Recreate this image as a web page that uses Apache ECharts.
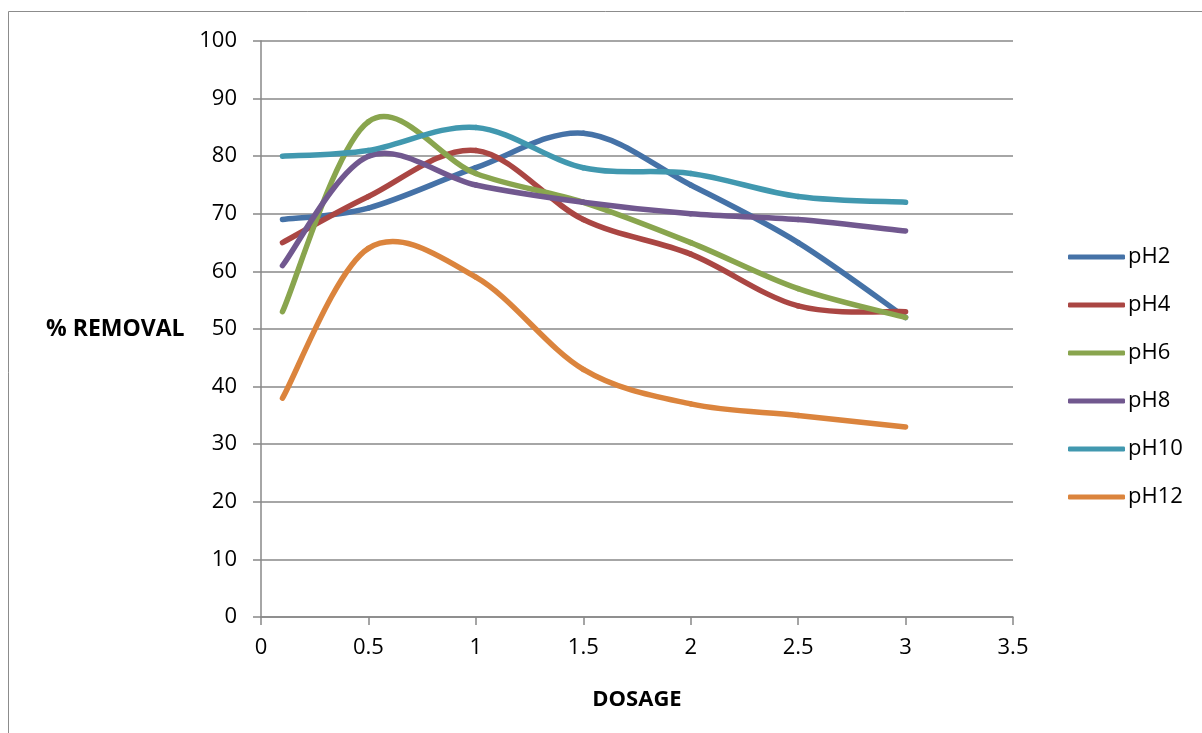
<!DOCTYPE html>
<html>
<head>
<meta charset="utf-8">
<script src="https://cdn.jsdelivr.net/npm/echarts@6/dist/echarts.min.js"></script>
<style>html,body{margin:0;padding:0;background:#fff;}#c{width:1202px;height:733px;}</style>
</head>
<body>
<div id="c"></div>
<script>
var dosage = [0.1, 0.5, 1, 1.5, 2, 2.5, 3];
var seriesNames = ['pH2', 'pH4', 'pH6', 'pH8', 'pH10', 'pH12'];
var pH2  = [69, 71, 78, 84, 75, 65, 52];
var pH4  = [65, 73, 81, 69, 63, 54, 53];
var pH6  = [53, 86, 77, 72, 65, 57, 52];
var pH8  = [61, 80, 75, 72, 70, 69, 67];
var pH10 = [80, 81, 85, 78, 77, 73, 72];
var pH12 = [38, 64, 59, 43, 37, 35, 33];
var colors = ['#4572A7', '#AA4643', '#89A54E', '#71588F', '#4198AF', '#DB843D'];

var values = [pH2, pH4, pH6, pH8, pH10, pH12];
function pairs(v) { return dosage.map(function (d, i) { return [d, v[i]]; }); }

// Excel-style smoothed line: cubic Bezier segments with Catmull-Rom control points,
// computed from points mapped through the chart's own axes (api.coord).
function smoothRenderer(idx) {
  return function (params, api) {
    if (params.dataIndex !== 0) return null;
    var pts = pairs(values[idx]).map(function (p) { return api.coord(p); });
    var n = pts.length, children = [];
    for (var i = 0; i < n - 1; i++) {
      var p0 = pts[Math.max(i - 1, 0)], p1 = pts[i], p2 = pts[i + 1], p3 = pts[Math.min(i + 2, n - 1)];
      children.push({
        type: 'bezierCurve',
        shape: {
          x1: p1[0], y1: p1[1], x2: p2[0], y2: p2[1],
          cpx1: p1[0] + (p2[0] - p0[0]) / 6, cpy1: p1[1] + (p2[1] - p0[1]) / 6,
          cpx2: p2[0] - (p3[0] - p1[0]) / 6, cpy2: p2[1] - (p3[1] - p1[1]) / 6
        },
        style: { stroke: colors[idx], fill: null, lineWidth: 5.5, lineCap: 'round', lineJoin: 'round' }
      });
    }
    return { type: 'group', children: children };
  };
}

var font = '"Open Sans", "Liberation Sans", sans-serif';
var chart = echarts.init(document.getElementById('c'), null, { renderer: 'canvas' });
chart.setOption({
  animation: false,
  backgroundColor: '#fff',
  color: colors,
  grid: { left: 261, right: 189, top: 41, bottom: 116 },
  graphic: [
    { type: 'rect', shape: { x: 8.5, y: 11.5, width: 1400, height: 900 },
      style: { fill: 'none', stroke: '#8c8c8c', lineWidth: 1 }, silent: true },
    { type: 'text', left: 46, top: 318,
      style: { text: '% REMOVAL', font: 'bold 23px ' + font, fill: '#000' } }
  ],
  legend: {
    orient: 'vertical', left: 1063, top: 240,
    icon: 'roundRect', itemWidth: 57, itemHeight: 5, itemGap: 24,
    textStyle: { fontFamily: font, fontSize: 22, color: '#000', lineHeight: 24, padding: [0, 0, 0, -2] },
    data: seriesNames
  },
  xAxis: {
    type: 'value', min: 0, max: 3.5, interval: 0.5,
    name: 'DOSAGE', nameLocation: 'middle', nameGap: 72,
    nameTextStyle: { fontFamily: font, fontSize: 22, fontWeight: 'bold', color: '#000' },
    axisLine: { show: true, lineStyle: { color: '#888', width: 1.5 } },
    axisTick: { show: true, length: 8, lineStyle: { color: '#888', width: 1.5 } },
    splitLine: { show: false },
    axisLabel: { fontFamily: font, fontSize: 22, color: '#000', margin: 20 }
  },
  yAxis: {
    type: 'value', min: 0, max: 100, interval: 10,
    axisLine: { show: true, lineStyle: { color: '#888', width: 1.5 } },
    axisTick: { show: true, length: 8, lineStyle: { color: '#888', width: 1.5 } },
    splitLine: { show: true, lineStyle: { color: '#888', width: 1.5 } },
    axisLabel: { fontFamily: font, fontSize: 22, color: '#000', margin: 24 }
  },
  series: seriesNames.map(function (n, i) {
    return {
      name: n, type: 'custom', data: pairs(values[i]),
      encode: { x: 0, y: 1 },
      renderItem: smoothRenderer(i),
      itemStyle: { color: colors[i] }
    };
  })
});
</script>
</body>
</html>
